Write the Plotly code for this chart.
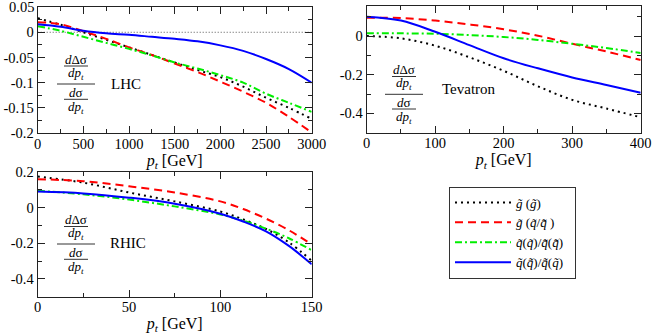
import plotly.graph_objects as go

# ---------------- data ----------------
# LHC
lhc_pt = [0, 250, 500, 750, 1000, 1250, 1500, 1750, 2000, 2250, 2500, 2750, 3000]
lhc_g_g = [0.028, 0.015, 0.0, -0.015, -0.03, -0.045, -0.06, -0.075, -0.089, -0.108, -0.13, -0.15, -0.172]
lhc_g_q = [0.02, 0.016, 0.002, -0.013, -0.03, -0.045, -0.062, -0.079, -0.098, -0.118, -0.14, -0.168, -0.199]
lhc_q_q = [0.012, 0.003, -0.009, -0.021, -0.033, -0.046, -0.06, -0.072, -0.085, -0.1, -0.122, -0.14, -0.158]
lhc_q_qb = [0.016, 0.011, 0.003, -0.002, -0.005, -0.009, -0.013, -0.018, -0.026, -0.037, -0.053, -0.073, -0.1]

# Tevatron
tev_pt = [0, 50, 100, 150, 200, 250, 300, 350, 400]
tev_g_g = [0.0, -0.012, -0.05, -0.11, -0.18, -0.26, -0.33, -0.375, -0.42]
tev_g_q = [0.095, 0.093, 0.08, 0.06, 0.035, 0.002, -0.04, -0.08, -0.124]
tev_q_q = [0.015, 0.014, 0.012, 0.005, -0.005, -0.02, -0.04, -0.062, -0.088]
tev_q_qb = [0.1, 0.08, 0.022, -0.047, -0.115, -0.167, -0.214, -0.253, -0.293]

# RHIC
rhic_pt = [0, 25, 50, 75, 100, 112.5, 125, 137.5, 150]
rhic_g_g = [0.175, 0.14, 0.085, 0.035, -0.022, -0.066, -0.12, -0.195, -0.298]
rhic_g_q = [0.16, 0.148, 0.12, 0.085, 0.035, -0.008, -0.062, -0.127, -0.207]
rhic_q_q = [0.095, 0.075, 0.045, 0.007, -0.038, -0.073, -0.118, -0.172, -0.239]
rhic_q_qb = [0.09, 0.08, 0.056, 0.022, -0.034, -0.078, -0.133, -0.215, -0.318]

series_names = [
    "<i>g\u0303</i> (<i>g\u0303</i>)",
    "<i>g\u0303</i> (<i>q\u0303</i>/<i>q\u0303\u0304</i> )",
    "<i>q\u0303</i>(<i>q\u0303</i>)/<i>q\u0303\u0304</i>(<i>q\u0303\u0304</i>)",
    "<i>q\u0303</i>(<i>q\u0303\u0304</i>)/<i>q\u0303\u0304</i>(<i>q\u0303</i>)\u2002",
]

lhc_xticks = [0, 500, 1000, 1500, 2000, 2500, 3000]
lhc_yticks = [0.05, 0, -0.05, -0.1, -0.15, -0.2]
lhc_ytext = ["0.05", "0", "-0.05", "-0.1", "-0.15", "-0.2"]
tev_xticks = [0, 100, 200, 300, 400]
tev_yticks = [0, -0.2, -0.4]
tev_ytext = ["0", "-0.2", "-0.4"]
rhic_xticks = [0, 50, 100, 150]
rhic_yticks = [0.2, 0, -0.2, -0.4]
rhic_ytext = ["0.2", "0", "-0.2", "-0.4"]
panel_labels = ["LHC", "Tevatron", "RHIC"]

# ---------------- styling ----------------
W, H = 654, 336
FONT = "Liberation Serif, Times New Roman, Times, serif"
styles = [
    dict(color="black", width=2, dash="2px,4px"),
    dict(color="#ff0000", width=2, dash="8px,5px"),
    dict(color="#00ee00", width=2, dash="7px,3px,2px,3px"),
    dict(color="#0000ff", width=2, dash="solid"),
]


def px(x, y):
    return x / W, 1 - y / H


fig = go.Figure()

panels = [
    ("x", "y", lhc_pt, [lhc_g_g, lhc_g_q, lhc_q_q, lhc_q_qb]),
    ("x2", "y2", tev_pt, [tev_g_g, tev_g_q, tev_q_q, tev_q_qb]),
    ("x3", "y3", rhic_pt, [rhic_g_g, rhic_g_q, rhic_q_q, rhic_q_qb]),
]
for pi, (xa, ya, xs, ys_list) in enumerate(panels):
    for si, ys in enumerate(ys_list):
        fig.add_trace(go.Scatter(
            x=xs, y=ys, mode="lines", xaxis=xa, yaxis=ya,
            line=dict(shape="spline", smoothing=1.0, **styles[si]),
            name=series_names[si], legendgroup=str(si),
            showlegend=(pi == 0), hoverinfo="skip",
        ))


def xaxis(domain, anchor, rng, ticks, minor_dt):
    return dict(
        domain=domain, anchor=anchor, range=rng, automargin=False,
        tickvals=ticks, ticktext=[str(t) for t in ticks],
        showline=True, linecolor="#222", linewidth=1.3, mirror="allticks",
        ticks="inside", ticklen=7, tickwidth=1, tickcolor="#222",
        minor=dict(ticks="inside", ticklen=4, tickwidth=1, tickcolor="#222",
                   dtick=minor_dt, tick0=0, showgrid=False),
        showgrid=False, zeroline=False,
        ticklabeloverflow="allow", ticklabelstandoff=-3,
        tickfont=dict(family=FONT, size=14.5, color="black"),
        title=dict(text="<i>p<sub>t</sub></i> [GeV]", standoff=3,
                   font=dict(family=FONT, size=16, color="black")),
    )


def yaxis(domain, anchor, rng, ticks, text, minor_dt):
    return dict(
        domain=domain, anchor=anchor, range=rng, automargin=False,
        tickvals=ticks, ticktext=text,
        showline=True, linecolor="#222", linewidth=1.3, mirror="allticks",
        ticks="inside", ticklen=7, tickwidth=1, tickcolor="#222",
        minor=dict(ticks="inside", ticklen=4, tickwidth=1, tickcolor="#222",
                   dtick=minor_dt, tick0=0, showgrid=False),
        showgrid=False, zeroline=False,
        ticklabeloverflow="allow",
        tickfont=dict(family=FONT, size=14.5, color="black"),
    )


d1x = [37.7 / W, 311.7 / W]
d1y = [1 - 133 / H, 1 - 7 / H]
d2x = [366.7 / W, 640.7 / W]
d2y = [1 - 132.7 / H, 1 - 5.7 / H]
d3x = [37.7 / W, 311.7 / W]
d3y = [1 - 296.7 / H, 1 - 172 / H]

# the top LHC label sits at the very edge of the page, where plotly would drop
# it as a tick label; it is drawn as an annotation at the same tick value
lhc_ytext_axis = [""] + lhc_ytext[1:]

fig.update_layout(
    xaxis=xaxis(d1x, "y", [0, 3000], lhc_xticks, 250),
    yaxis=yaxis(d1y, "x", [-0.2, 0.0502], lhc_yticks, lhc_ytext_axis, 0.025),
    xaxis2=xaxis(d2x, "y2", [0, 400], tev_xticks, 50),
    yaxis2=yaxis(d2y, "x2", [-0.5, 0.157], tev_yticks, tev_ytext, 0.1),
    xaxis3=xaxis(d3x, "y3", [0, 150], rhic_xticks, 25),
    yaxis3=yaxis(d3y, "x3", [-0.5, 0.2], rhic_yticks, rhic_ytext, 0.1),
)

fig.add_annotation(x=34.5 / W, xref="paper", y=lhc_yticks[0], yref="y",
                   text=lhc_ytext[0], showarrow=False, xanchor="right",
                   yanchor="middle", borderpad=0,
                   font=dict(family=FONT, size=14.5, color="black"))

# zero reference line in LHC panel
fig.add_shape(type="line", xref="x domain", yref="y", x0=0, x1=1, y0=0, y1=0,
              line=dict(color="#555", width=1, dash="1px,2px"), layer="below")

# ratio labels (fraction of fractions)
frac_pos = [
    # (center x, y num, y line1, y den1, y main line, y num2, y line2, y den2, label x, label y)
    (76, 59.5, 66, 73.5, 84, 92.8, 99.3, 107, 126, 84),
    (404, 69.5, 76.5, 83.5, 94.3, 102.5, 109, 117, 469, 89),
    (76, 219.5, 226.5, 233.5, 244, 252.8, 259.3, 267, 128, 243),
]
for (cx, yn, yl1, yd1, ym, yn2, yl2, yd2, lx, ly), lab in zip(frac_pos, panel_labels):
    for txt, yy in [("<i>d</i>Δσ", yn), ("<i>dp</i><sub><i>t</i></sub>", yd1),
                    ("<i>d</i>σ", yn2), ("<i>dp</i><sub><i>t</i></sub>", yd2)]:
        ax_, ay_ = px(cx, yy)
        fig.add_annotation(x=ax_, y=ay_, xref="paper", yref="paper", text=txt,
                           showarrow=False, xanchor="center", yanchor="middle",
                           borderpad=0,
                           font=dict(family=FONT, size=13, color="black"))
    for yy, half in [(yl1, 12), (ym, 19), (yl2, 12)]:
        x0, y0 = px(cx - half, yy)
        x1, _ = px(cx + half, yy)
        fig.add_shape(type="line", xref="paper", yref="paper", x0=x0, x1=x1, y0=y0, y1=y0,
                      line=dict(color="#333", width=1))
    ax_, ay_ = px(lx, ly)
    fig.add_annotation(x=ax_, y=ay_, xref="paper", yref="paper", text=lab,
                       showarrow=False, xanchor="center", yanchor="middle",
                       font=dict(family=FONT, size=15, color="black"))

lgx, lgy = px(449, 186.5)
fig.update_layout(
    width=W, height=H, autosize=False,
    margin=dict(l=0, r=0, t=0, b=0, autoexpand=False),
    paper_bgcolor="white", plot_bgcolor="white",
    showlegend=True,
    legend=dict(x=lgx, y=lgy, xanchor="left", yanchor="top",
                bordercolor="#333", borderwidth=1, bgcolor="white",
                font=dict(family=FONT, size=13, color="black"),
                itemwidth=56, tracegroupgap=0),
    font=dict(family=FONT),
    hovermode=False,
)

fig.write_html("out.html", config={"displayModeBar": False},
               post_script="document.body.style.margin='0';")
